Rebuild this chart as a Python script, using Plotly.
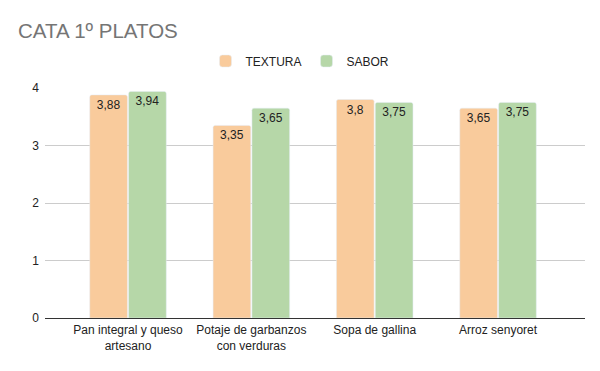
import plotly.graph_objects as go

categories = ["Pan integral y queso<br>artesano", "Potaje de garbanzos<br>con verduras", "Sopa de gallina", "Arroz senyoret"]
textura = [3.88, 3.35, 3.8, 3.65]
sabor = [3.94, 3.65, 3.75, 3.75]
tick_vals = [0, 1, 2, 3, 4]

def fmt(v):
    return f"{v:g}".replace(".", ",")

FONT = "Liberation Sans, Arial, sans-serif"

fig = go.Figure()
fig.add_trace(go.Bar(x=list(range(4)), y=textura, name="TEXTURA", marker_color="#f9cb9c",
                     marker_cornerradius=2,
                     text=[fmt(v) for v in textura], textposition="inside", insidetextanchor="end",
                     textfont=dict(color="#222222", size=12), textangle=0))
fig.add_trace(go.Bar(x=list(range(4)), y=sabor, name="SABOR", marker_color="#b6d7a8",
                     marker_cornerradius=2,
                     text=[fmt(v) for v in sabor], textposition="inside", insidetextanchor="end",
                     textfont=dict(color="#222222", size=12), textangle=0))

fig.update_layout(
    width=600, height=371,
    margin=dict(l=45, r=15, t=88, b=53),
    paper_bgcolor="white", plot_bgcolor="white",
    font=dict(family=FONT, size=12, color="#222222"),
    title=dict(text="CATA 1º PLATOS", x=18/600, xref="container", xanchor="left",
               y=1 - 31/371, yref="container", yanchor="middle",
               font=dict(size=20.5, color="#757575", family=FONT)),
    barmode="group", bargap=0.37, bargroupgap=0.03,
    legend=dict(orientation="h", x=0.5, xref="container", xanchor="center",
                y=1 - 61/371, yref="container", yanchor="middle", itemwidth=30,
                font=dict(size=12, color="#222222")),
    xaxis=dict(tickmode="array", tickvals=list(range(4)), ticktext=categories,
               range=[-0.673, 3.705], showgrid=False, ticks="", showline=False, zeroline=False,
               automargin=False, ticklabelstandoff=3),
    yaxis=dict(range=[0, 4], tickvals=tick_vals, showgrid=True, gridcolor="#cccccc",
               zeroline=True, zerolinecolor="#333333", zerolinewidth=1, ticks="", ticklen=0,
               automargin=False, ticklabelstandoff=5),
    uniformtext=dict(minsize=12, mode="show"),
)
fig.write_html("out.html", config={"displayModeBar": False},
               post_script="document.body.style.margin='0';document.body.style.overflow='hidden';")
